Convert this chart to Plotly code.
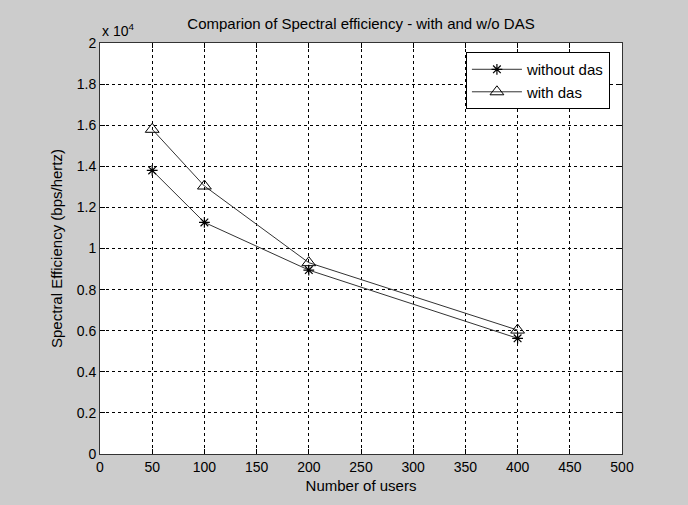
import plotly.graph_objects as go

users = [50, 100, 200, 400]
without_das = [13800, 11270, 8950, 5630]
with_das = [15800, 13040, 9310, 6030]

x_ticks = [0, 50, 100, 150, 200, 250, 300, 350, 400, 450, 500]
y_ticks = [0, 2000, 4000, 6000, 8000, 10000, 12000, 14000, 16000, 18000, 20000]
y_tick_text = ["0", "0.2", "0.4", "0.6", "0.8", "1", "1.2", "1.4", "1.6", "1.8", "2"]

FONT = "Liberation Sans, Arial, sans-serif"

fig = go.Figure()
fig.add_trace(go.Scatter(
    x=users, y=without_das, name="without das", mode="lines+markers",
    line=dict(color="#333333", width=1),
    marker=dict(symbol="asterisk-open", size=9, color="black", line=dict(color="black", width=1.2)),
))
fig.add_trace(go.Scatter(
    x=users, y=with_das, name="with das", mode="lines+markers",
    line=dict(color="#333333", width=1),
    marker=dict(symbol="triangle-up-open", size=12, color="black", line=dict(color="black", width=1)),
))

axis_common = dict(
    showline=True, linecolor="#333333", linewidth=1, mirror="ticks",
    ticks="inside", ticklen=5, tickcolor="black",
    showgrid=True, gridcolor="black", gridwidth=1, griddash="3px,3px",
    zeroline=False, tickfont=dict(family=FONT, size=14, color="black"),
)

fig.update_layout(
    width=688, height=505,
    margin=dict(l=100, r=66, t=43, b=51),
    paper_bgcolor="#cccccc", plot_bgcolor="white",
    font=dict(family=FONT, size=14, color="black"),
    title=dict(text="Comparion of Spectral efficiency - with and w/o DAS",
               x=0.5, xref="paper", xanchor="center", y=1-24/505, yanchor="middle",
               font=dict(family=FONT, size=15, color="black")),
    xaxis=dict(range=[0, 500], tickvals=x_ticks,
               title=dict(text="Number of users", standoff=6, font=dict(family=FONT, size=15)),
               **axis_common),
    yaxis=dict(range=[0, 20000], tickvals=y_ticks, ticktext=y_tick_text,
               title=dict(text="Spectral Efficiency (bps/hertz)", standoff=10, font=dict(family=FONT, size=15)),
               **axis_common),
    legend=dict(x=0.701, y=0.978, xanchor="left", yanchor="top",
                bgcolor="white", bordercolor="black", borderwidth=1,
                font=dict(family=FONT, size=15, color="black"),
                tracegroupgap=0, itemwidth=50),
    showlegend=True,
)

fig.add_annotation(x=0, y=1, xref="paper", yref="paper", xanchor="left", yanchor="bottom",
                   text="x 10<sup>4</sup>", showarrow=False, xshift=0, yshift=2,
                   font=dict(family=FONT, size=14, color="black"))

fig.write_html("out.html")
